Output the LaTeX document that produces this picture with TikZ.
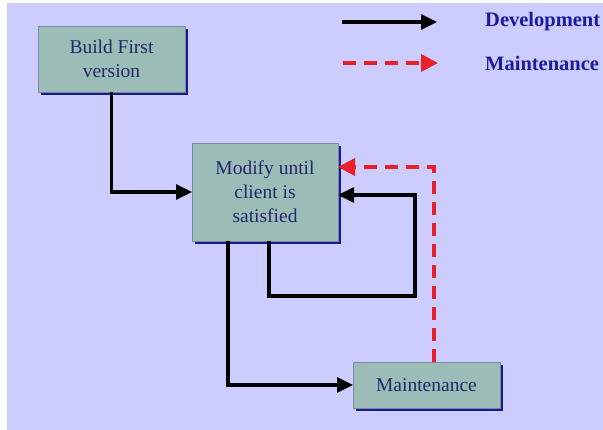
\documentclass[tikz,border=0pt]{standalone}
\usepackage{fontspec}
\setmainfont{Liberation Serif}
\usetikzlibrary{arrows.meta,calc}
\definecolor{bgl}{HTML}{CCCCFF}
\definecolor{boxfill}{HTML}{9CBCB8}
\definecolor{boxline}{HTML}{7A8AA0}
\definecolor{shadowc}{HTML}{1A1A90}
\definecolor{boxtext}{HTML}{22286A}
\definecolor{legtext}{HTML}{1C1CA0}
\definecolor{mred}{HTML}{E8202A}
\tikzset{
  procbox/.style={draw=boxline, line width=0.8pt, fill=boxfill, text=boxtext,
    font=\fontsize{19.5}{24}\selectfont, align=center, inner sep=0pt, outer sep=0pt,
    minimum width=#1, preaction={fill=shadowc, transform canvas={shift={(3pt,-3pt)}}}},
  devline/.style={line width=3.2pt, black, -{Triangle[length=16pt,width=15pt]}},
  mntline/.style={line width=3.3pt, mred, dash pattern=on 13pt off 8pt, -{Triangle[length=17pt,width=17pt]}},
  legtxt/.style={anchor=west, text=legtext, font=\fontsize{20.5}{23}\selectfont\bfseries, inner sep=0pt}
}
\begin{document}
\begin{tikzpicture}[x=1pt,y=-1pt]
\useasboundingbox[fill=white] (0,0) rectangle (603,430);
\fill[bgl] (7,3) rectangle (603,430);
\begin{scope}
\clip (0,0) rectangle (603,430);
% boxes
\node[procbox=147pt, minimum height=66pt] (build) at (111.5,59) {Build First\\version};
\node[procbox=146pt, minimum height=98pt] (modify) at (265,192) {Modify until\\client is\\satisfied};
\node[procbox=147pt, minimum height=46pt] (maint) at (426.5,385) {Maintenance};
% connectors
\draw[devline] (build.south) |- (modify.west);
\coordinate (mb1) at ($(modify.south west)+(36,0)$);
\draw[devline] (mb1) |- (maint.west);
\coordinate (mb2) at ($(modify.south west)+(77,0)$);
\coordinate (loopc) at (415,296);
\coordinate (loopin) at ($(modify.east)+(0,3)$);
\draw[devline] (mb2) |- (loopc) |- (loopin);
\coordinate (mt) at ($(maint.north west)+(81,0)$);
\coordinate (redin) at ($(modify.east)+(0,-25)$);
\draw[mntline] (mt) |- (redin);
% legend
\coordinate (l1a) at (342,22);
\coordinate (l1b) at (437,22);
\coordinate (l2a) at (343,63);
\coordinate (l2b) at (438,63);
\draw[devline] (l1a) -- (l1b);
\draw[mntline] (l2a) -- (l2b);
\node[legtxt] (ldev) at (485,22) {Development};
\node[legtxt] (lmnt) at (485,63) {Maintenance};
\end{scope}
\end{tikzpicture}
\end{document}
